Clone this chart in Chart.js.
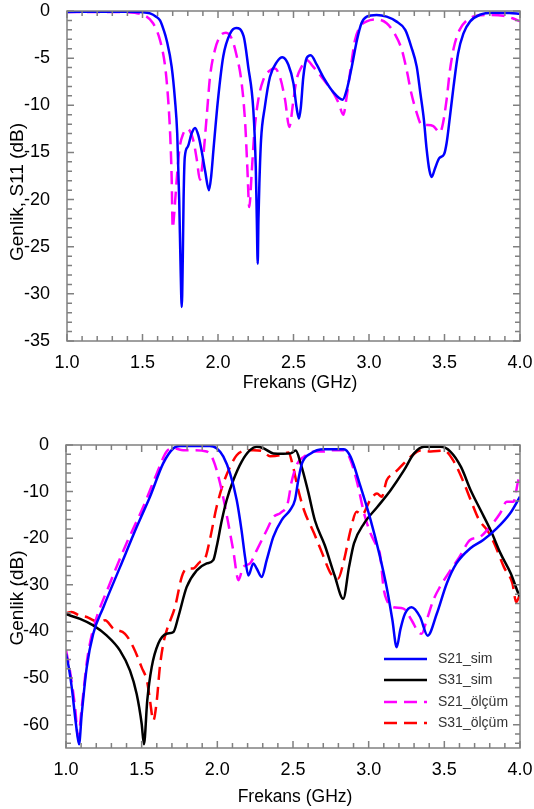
<!DOCTYPE html>
<html><head><meta charset="utf-8">
<script src="https://cdn.jsdelivr.net/npm/chart.js@4"></script>
<style>
html,body{margin:0;padding:0;background:#fff;}
#wrap1{position:absolute;left:0;top:0;width:534px;height:400px;}
#wrap2{position:absolute;left:0;top:400px;width:534px;height:409px;}
</style></head><body>
<div id="wrap1"><canvas id="c1"></canvas></div>
<div id="wrap2"><canvas id="c2"></canvas></div>
<script>
// ---------- data ----------
const freqTicks = [1.0, 1.5, 2.0, 2.5, 3.0, 3.5, 4.0];
const topYTicks = [0, -5, -10, -15, -20, -25, -30, -35];
const bottomYTicks = [0, -10, -20, -30, -40, -50, -60];

const s11SimFreq = [1.00,1.20,1.40,1.50,1.55,1.59,1.616,1.64,1.66,1.693,1.715,1.73,1.743,1.752,1.76,1.767,1.772,1.78,1.80,1.825,1.848,1.87,1.89,1.915,1.94,1.955,1.97,2.00,2.035,2.08,2.12,2.17,2.20,2.234,2.25,2.257,2.263,2.268,2.274,2.285,2.31,2.344,2.39,2.426,2.466,2.50,2.52,2.536,2.548,2.565,2.587,2.614,2.654,2.70,2.763,2.826,2.852,2.886,2.92,2.95,2.985,3.05,3.117,3.18,3.24,3.28,3.316,3.34,3.364,3.38,3.40,3.415,3.437,3.466,3.497,3.514,3.536,3.56,3.59,3.625,3.67,3.735,3.82,3.93,4.00];
const s11SimDb = [-0.10,-0.08,-0.08,-0.12,-0.25,-0.6,-1.0,-2.0,-3.1,-5.9,-9.4,-13.0,-20,-27,-31.4,-26,-20,-15.5,-14.4,-13.0,-12.4,-13.2,-14.7,-17,-19,-17.5,-14.7,-9.4,-4.8,-2.4,-1.8,-2.7,-5.9,-10.5,-16.5,-22,-26.8,-22,-18.3,-13.7,-10.2,-7.0,-5.4,-4.9,-5.7,-7.7,-10.2,-11.4,-10.3,-7.0,-5.0,-4.7,-5.7,-7.1,-8.6,-9.4,-8.4,-5.9,-3.1,-1.3,-0.6,-0.42,-0.6,-1.1,-2.0,-3.8,-5.9,-8.7,-11.6,-14.4,-16.9,-17.6,-16.7,-15.6,-15.2,-14.0,-11.2,-8.0,-4.5,-2.4,-1.1,-0.4,-0.18,-0.2,-0.3];

const s11MeasFreq = [1.00,1.20,1.395,1.45,1.505,1.57,1.616,1.65,1.67,1.683,1.693,1.70,1.71,1.72,1.744,1.77,1.797,1.836,1.86,1.88,1.90,1.925,1.947,1.98,2.013,2.053,2.09,2.12,2.157,2.18,2.194,2.207,2.223,2.24,2.267,2.30,2.344,2.377,2.41,2.444,2.472,2.50,2.52,2.554,2.587,2.63,2.70,2.765,2.80,2.83,2.852,2.88,2.907,2.94,2.985,3.05,3.117,3.17,3.217,3.25,3.28,3.316,3.35,3.39,3.426,3.47,3.49,3.514,3.536,3.563,3.60,3.647,3.713,3.80,3.89,3.955,4.00];
const s11MeasDb = [-0.1,-0.1,-0.12,-0.2,-0.4,-1.3,-3.1,-5.9,-9.4,-13,-17.6,-23.0,-21.5,-19.3,-14.7,-13.0,-12.5,-13.7,-15.8,-17.9,-15.8,-11.2,-7.0,-4.1,-2.7,-2.3,-2.9,-4.5,-7.7,-11.9,-16.5,-20.8,-17.2,-13.0,-9.4,-7.3,-6.3,-6.1,-7.0,-9.4,-12.3,-9.4,-7.3,-5.9,-5.2,-5.9,-7.3,-8.7,-9.8,-11.0,-9.1,-5.9,-3.1,-1.7,-1.1,-0.9,-1.3,-2.4,-4.1,-6.3,-8.7,-10.8,-12.1,-12.1,-12.2,-12.9,-11.9,-9.4,-6.3,-3.8,-2.0,-1.0,-0.5,-0.42,-0.5,-0.8,-1.1];

const s21SimFreq = [1.000,1.02,1.038,1.066,1.086,1.104,1.137,1.18,1.247,1.357,1.467,1.555,1.643,1.71,1.753,1.95,1.995,2.04,2.084,2.128,2.16,2.183,2.205,2.238,2.26,2.293,2.326,2.37,2.425,2.48,2.513,2.535,2.56,2.617,2.705,2.837,2.88,2.947,3.013,3.07,3.123,3.157,3.185,3.21,3.24,3.284,3.34,3.39,3.45,3.516,3.58,3.67,3.757,3.846,3.934,4.0];
const s21SimDb = [-44.8,-48,-52,-59.9,-64.2,-57.7,-47.7,-40.5,-34.8,-26.2,-17.6,-11.1,-3.9,-0.7,-0.2,-0.2,-0.7,-2.5,-6.1,-11.8,-18.3,-24,-28,-25.4,-26.5,-28.3,-24.7,-19.7,-16.1,-14,-11.8,-7.5,-3.9,-1.8,-0.9,-0.9,-2.5,-9,-16.1,-23.3,-31.2,-37.6,-43.4,-39.5,-36.2,-34.8,-36.9,-40.9,-36.2,-29.7,-25.4,-22.2,-20.4,-17.9,-14.7,-11.1];

const s31SimFreq = [1.000,1.093,1.18,1.27,1.357,1.423,1.467,1.50,1.515,1.537,1.566,1.61,1.665,1.71,1.742,1.797,1.864,1.93,1.973,1.995,2.03,2.062,2.106,2.16,2.216,2.26,2.304,2.37,2.436,2.485,2.518,2.55,2.6,2.645,2.71,2.775,2.832,2.87,2.903,2.97,3.057,3.145,3.234,3.30,3.366,3.476,3.54,3.61,3.674,3.74,3.806,3.872,3.94,3.99,4.0];
const s31SimDb = [-36.3,-37.3,-38.7,-40.9,-44.1,-48.4,-53.4,-59.8,-64.2,-54.8,-47.7,-42.6,-40.5,-40.1,-36.9,-30.5,-26.9,-25.4,-24.7,-21.9,-16.1,-11.8,-7.5,-3.6,-1.1,-0.4,-0.7,-1.8,-1.9,-1.8,-1.2,-3.9,-10,-16.2,-21.5,-28,-33,-26.2,-21.1,-16.8,-13.3,-9.7,-5.4,-1.8,-0.4,-0.4,-1.4,-4.7,-9.7,-14,-18.3,-23.3,-27.6,-31.9,-32.5];

const s21MeasFreq = [1.000,1.026,1.06,1.08,1.104,1.14,1.18,1.29,1.40,1.51,1.60,1.665,1.71,1.775,1.84,1.93,1.973,2.018,2.06,2.105,2.14,2.17,2.216,2.26,2.326,2.37,2.42,2.465,2.49,2.53,2.573,2.64,2.705,2.75,2.837,2.88,2.925,2.97,3.013,3.05,3.075,3.10,3.12,3.163,3.23,3.284,3.328,3.35,3.383,3.427,3.47,3.54,3.60,3.67,3.736,3.80,3.868,3.912,3.956,3.99,4.0];
const s21MeasDb = [-44,-48.4,-56.3,-62.7,-56.3,-46,-39.5,-29.7,-21.1,-13.3,-6.1,-1.4,-0.7,-1.1,-1.1,-1.4,-3.2,-8.2,-14.7,-22.6,-29,-26.2,-25.4,-22.6,-18.3,-15.5,-14.5,-12.5,-8,-3.9,-2.5,-1.4,-1.4,-1.1,-1.1,-3.2,-8.2,-14.7,-19,-21.5,-23.5,-31,-33.3,-34.8,-35.1,-37.6,-40.1,-40.5,-37.6,-33.3,-30.5,-26.9,-24,-20.4,-19.7,-17.6,-14.7,-12.2,-12.2,-7.5,-7];

const s31MeasFreq = [1.000,1.037,1.09,1.137,1.18,1.225,1.258,1.313,1.39,1.445,1.50,1.537,1.555,1.577,1.60,1.62,1.643,1.665,1.72,1.765,1.797,1.84,1.885,1.918,1.95,1.995,2.04,2.084,2.128,2.183,2.238,2.304,2.348,2.414,2.47,2.495,2.53,2.573,2.64,2.694,2.75,2.797,2.837,2.88,2.92,2.955,3.01,3.055,3.086,3.12,3.167,3.21,3.278,3.344,3.41,3.498,3.564,3.63,3.674,3.73,3.784,3.83,3.894,3.95,3.975,4.0];
const s31MeasDb = [-36.1,-35.8,-36.6,-36.9,-37.6,-38,-37.6,-39.4,-40.5,-43.4,-47.7,-50.9,-54.8,-59.1,-54.8,-47.7,-42.6,-39.8,-34.8,-28.3,-26.5,-26.5,-25.1,-24.4,-20.4,-13.3,-8.2,-4.7,-2.2,-1.2,-1.1,-1.4,-2.4,-2.2,-1.6,-3.9,-9,-14,-19,-23.3,-27.6,-28.7,-24.7,-18.3,-14.3,-15,-11.8,-10.4,-11.1,-7.5,-6.1,-4.7,-2.5,-1.2,-1.4,-1.2,-3.6,-8.2,-11.8,-16.1,-18.3,-21.1,-26.2,-29.7,-33.7,-32];

// ---------- helpers ----------
const FONT = "'Liberation Sans', Arial, sans-serif";
const pts = (fs, ds) => fs.map((f, i) => ({x: f, y: ds[i]}));

function lineDs(label, fs, ds, color, dashed) {
  return {
    label, data: pts(fs, ds), borderColor: color, backgroundColor: color,
    borderWidth: 2.5, borderDash: dashed ? [13, 7] : [], pointRadius: 0,
    cubicInterpolationMode: 'monotone', fill: false
  };
}

const framePlugin = {
  id: 'frame',
  afterDraw(chart, args, o) {
    const {ctx, chartArea: {left, right, top, bottom}} = chart;
    const xs = chart.scales.x, ys = chart.scales.y;
    ctx.save();
    ctx.strokeStyle = '#808080';
    ctx.lineWidth = 1.5;
    ctx.beginPath();
    for (let i = 10; i <= 40; i++) {
      const px = xs.getPixelForValue(i / 10);
      const L = (i % 5 === 0) ? 7 : 5;
      ctx.moveTo(px, bottom); ctx.lineTo(px, bottom - L);
      ctx.moveTo(px, top); ctx.lineTo(px, top + L);
    }
    for (let v = o.yMinorStart; v <= 0; v += o.yMinor) {
      const py = ys.getPixelForValue(v);
      const L = (v % o.yMajor === 0) ? 7 : 5;
      ctx.moveTo(left, py); ctx.lineTo(left + L, py);
      ctx.moveTo(right, py); ctx.lineTo(right - L, py);
    }
    ctx.stroke();
    ctx.strokeRect(left, top, right - left, bottom - top);
    // axis titles
    ctx.fillStyle = '#000';
    ctx.textAlign = 'center';
    ctx.textBaseline = 'middle';
    ctx.font = o.xTitle.size + 'px ' + FONT;
    ctx.fillText(o.xTitle.text, o.xTitle.x, o.xTitle.y);
    ctx.translate(o.yTitle.x, o.yTitle.y);
    ctx.rotate(-Math.PI / 2);
    ctx.font = o.yTitle.size + 'px ' + FONT;
    ctx.fillText(o.yTitle.text, 0, 0);
    ctx.restore();
  }
};

const legendPlugin = {
  id: 'boxLegend',
  afterDraw(chart, args, o) {
    if (!o.show) return;
    const ctx = chart.ctx;
    ctx.save();
    chart.data.datasets.forEach((ds, i) => {
      const y = o.rows[i];
      ctx.strokeStyle = ds.borderColor;
      ctx.lineWidth = ds.borderWidth;
      ctx.setLineDash(ds.borderDash);
      ctx.beginPath();
      ctx.moveTo(o.x0, y); ctx.lineTo(o.x1, y);
      ctx.stroke();
      ctx.setLineDash([]);
      ctx.fillStyle = '#333';
      ctx.font = '14px ' + FONT;
      ctx.textAlign = 'left';
      ctx.textBaseline = 'middle';
      ctx.fillText(ds.label, o.tx, y);
    });
    ctx.restore();
  }
};

function makeOptions(cfg) {
  return {
    responsive: true, maintainAspectRatio: false, animation: false,
    layout: {padding: {left: 0, right: 14, top: cfg.padTop, bottom: 0}},
    plugins: {
      legend: {display: false}, tooltip: {enabled: false},
      frame: cfg.frame, boxLegend: cfg.legend
    },
    scales: {
      x: {
        type: 'linear', min: 1, max: 4,
        grid: {display: false}, border: {display: false},
        afterBuildTicks: s => { s.ticks = freqTicks.map(v => ({value: v})); },
        afterFit: s => { s.height = cfg.xHeight; s.paddingLeft = 0; s.paddingRight = 0; },
        ticks: {padding: 3, color: '#000', font: {family: FONT, size: 18},
          maxRotation: 0, autoSkip: false, callback: v => Number(v).toFixed(1)}
      },
      y: {
        type: 'linear', min: cfg.yMin, max: 0,
        grid: {display: false}, border: {display: false},
        afterBuildTicks: s => { s.ticks = cfg.yTicks.map(v => ({value: v})); },
        afterFit: s => { s.width = cfg.yWidth; s.paddingTop = 0; s.paddingBottom = 0; },
        ticks: {padding: 9, color: '#000', font: {family: FONT, size: 18},
          autoSkip: false, callback: v => String(v)}
      }
    }
  };
}

new Chart(document.getElementById('c1'), {
  type: 'line',
  data: {datasets: [
    lineDs('S11_sim', s11SimFreq, s11SimDb, '#0000ff', false),
    lineDs('S11_ölçüm', s11MeasFreq, s11MeasDb, '#ff00ff', true)
  ]},
  options: makeOptions({
    padTop: 11, xHeight: 59, yWidth: 67, yMin: -35, yTicks: topYTicks,
    frame: {yMinor: 1, yMajor: 5, yMinorStart: -35,
      xTitle: {text: 'Frekans (GHz)', x: 300, y: 383, size: 17.5},
      yTitle: {text: 'Genlik, S11 (dB)', x: 18, y: 192, size: 19}},
    legend: {show: false}
  }),
  plugins: [framePlugin, legendPlugin]
});

new Chart(document.getElementById('c2'), {
  type: 'line',
  data: {datasets: [
    lineDs('S21_sim', s21SimFreq, s21SimDb, '#0000ff', false),
    lineDs('S31_sim', s31SimFreq, s31SimDb, '#000000', false),
    lineDs('S21_ölçüm', s21MeasFreq, s21MeasDb, '#ff00ff', true),
    lineDs('S31_ölçüm', s31MeasFreq, s31MeasDb, '#ff0000', true)
  ]},
  options: makeOptions({
    padTop: 45, xHeight: 61, yWidth: 66, yMin: -65, yTicks: bottomYTicks,
    frame: {yMinor: 2, yMajor: 10, yMinorStart: -64,
      xTitle: {text: 'Frekans (GHz)', x: 295, y: 397, size: 17.5},
      yTitle: {text: 'Genlik (dB)', x: 18, y: 198, size: 19}},
    legend: {show: true, x0: 384, x1: 427, tx: 438, rows: [259, 280, 302, 323]}
  }),
  plugins: [framePlugin, legendPlugin]
});
</script>
</body></html>
